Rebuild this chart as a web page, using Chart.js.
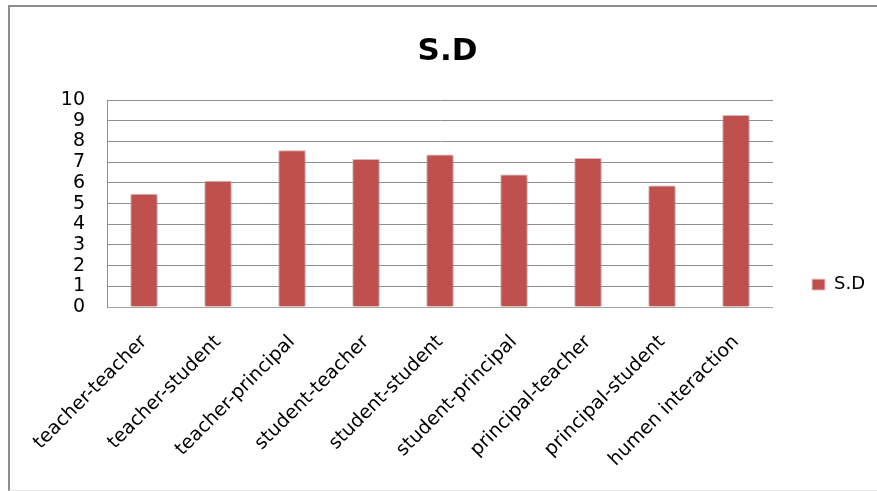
<!DOCTYPE html>
<html>
<head>
<meta charset="utf-8">
<script src="https://cdn.jsdelivr.net/npm/chart.js@4.4.1/dist/chart.umd.min.js"></script>
<style>
    html, body { margin: 0; padding: 0; background: #fff; overflow: hidden; }
    #frame {
        position: absolute; left: 8px; top: 5px; width: 900px; height: 483px;
        border-top: 2px solid #8c8c8c; border-left: 2px solid #8c8c8c;
        border-bottom: 1px solid #e4e4e4;
    }
    #chart { position: absolute; left: 0; top: 0; }
</style>
</head>
<body>
<div id="frame"></div>
<canvas id="chart" width="877" height="491"></canvas>
<script>
const categories = [
    'teacher-teacher', 'teacher-student', 'teacher-principal',
    'student-teacher', 'student-student', 'student-principal',
    'principal-teacher', 'principal-student', 'humen interaction'
];
const sdValues = [5.48, 6.11, 7.58, 7.16, 7.37, 6.41, 7.2, 5.88, 9.29];
const yTicks = [0, 1, 2, 3, 4, 5, 6, 7, 8, 9, 10];

const barShadow = {
    id: 'barShadow',
    beforeDatasetsDraw(chart) {
        const ctx = chart.ctx;
        ctx.save();
        ctx.shadowColor = 'rgba(0, 0, 0, 0.28)';
        ctx.shadowBlur = 6;
        ctx.shadowOffsetX = 1;
        ctx.shadowOffsetY = 1;
    },
    afterDatasetsDraw(chart) {
        chart.ctx.restore();
    }
};

// keep the legend centred on the lower part of the chart, like the original
const legendPlace = {
    id: 'legendPlace',
    afterLayout(chart) {
        chart.legend.top = chart.chartArea.top;
        chart.legend.bottom = 469;
        chart.legend.height = chart.legend.bottom - chart.legend.top;
    }
};

const ctx = document.getElementById('chart').getContext('2d');
const sdChart = new Chart(ctx, {
    type: 'bar',
    data: {
        labels: categories,
        datasets: [{
            label: 'S.D',
            data: sdValues,
            backgroundColor: '#C0504D',
            borderColor: '#EBC9C8',
            borderWidth: 1,
            barPercentage: 0.37,
            categoryPercentage: 1
        }]
    },
    options: {
        responsive: false,
        animation: false,
        devicePixelRatio: 1,
        layout: {
            padding: { left: 20, right: 2, top: 0, bottom: 22 }
        },
        plugins: {
            title: {
                display: true,
                text: 'S.D',
                color: '#000',
                font: { family: 'DejaVu Sans', size: 31, weight: 'bold', lineHeight: 1.2 },
                padding: { top: 33, bottom: 30 }
            },
            legend: {
                position: 'right',
                labels: {
                    color: '#000',
                    boxWidth: 13,
                    boxHeight: 11,
                    padding: 39,
                    font: { family: 'DejaVu Sans', size: 18 }
                }
            },
            tooltip: { enabled: false }
        },
        scales: {
            x: {
                grid: { display: false },
                border: { display: true, color: '#a6a6a6' },
                ticks: {
                    color: '#000',
                    minRotation: 45,
                    maxRotation: 45,
                    autoSkip: false,
                    padding: 16,
                    font: { family: 'DejaVu Sans', size: 19 }
                },
                afterFit(scale) {
                    scale.height = 162;
                }
            },
            y: {
                min: 0,
                max: 10,
                afterBuildTicks(scale) {
                    scale.ticks = yTicks.map(v => ({ value: v }));
                },
                grid: { color: '#8f8f8f', drawTicks: false },
                border: { color: '#8f8f8f' },
                ticks: {
                    color: '#000',
                    autoSkip: false,
                    padding: 22,
                    font: { family: 'DejaVu Sans', size: 19 }
                },
                afterFit(scale) {
                    scale.width = 87;
                }
            }
        }
    },
    plugins: [barShadow, legendPlace]
});
</script>
</body>
</html>
